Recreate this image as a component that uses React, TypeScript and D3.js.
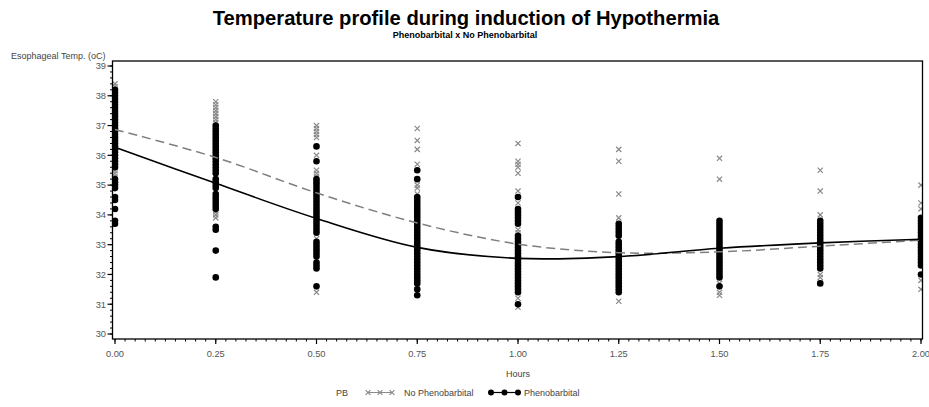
import React from 'react';
import * as d3 from 'd3';

const hours = [0, 0.25, 0.5, 0.75, 1.0, 1.25, 1.5, 1.75, 2.0];
const xTickLabels = ['0.00', '0.25', '0.50', '0.75', '1.00', '1.25', '1.50', '1.75', '2.00'];
const yTickValues = [30, 31, 32, 33, 34, 35, 36, 37, 38, 39];

// smoothed group means
const pbFit = [36.27, 35.06, 33.88, 32.91, 32.54, 32.6, 32.88, 33.06, 33.18];
const noPbFit = [36.87, 35.93, 34.74, 33.73, 33.02, 32.73, 32.76, 32.95, 33.15];

// individual observations, one list per time point
const noPbPoints: number[][] = [
  [38.4, 38.3, 38.2, 38.0, 37.6, 37.2, 36.9, 36.5, 36.0, 35.6, 35.5, 35.4, 35.3, 35.0],
  [37.8, 37.7, 37.6, 37.5, 37.4, 37.3, 37.2, 37.1, 36.5, 36.0, 35.5, 35.3, 35.0, 34.5, 34.1, 34.0, 33.9],
  [37.0, 36.9, 36.8, 36.7, 36.6, 36.0, 35.5, 35.4, 35.3, 34.0, 33.2, 31.4],
  [36.9, 36.5, 36.2, 35.7, 35.0, 34.9, 34.7, 33.0, 31.6, 31.5],
  [36.4, 35.8, 35.7, 35.6, 35.4, 34.8, 34.4, 33.5, 33.4, 31.2, 30.9],
  [36.2, 35.8, 34.7, 33.9, 33.6, 33.2, 31.1],
  [35.9, 35.2, 31.7, 31.4, 31.3],
  [35.5, 34.8, 34.0, 32.0, 31.9, 31.7],
  [35.0, 34.4, 34.2, 33.0, 31.8, 31.5],
];

const pbPoints: number[][] = [
  [38.2, 38.1, 38.0, 37.9, 37.8, 37.7, 37.6, 37.5, 37.4, 37.3, 37.2, 37.1, 37.0, 36.9, 36.8, 36.7, 36.6, 36.5, 36.4, 36.3, 36.2, 36.1, 36.0, 35.9, 35.8, 35.7, 35.6, 35.2, 35.1, 35.0, 34.9, 34.6, 34.5, 34.2, 33.8, 33.7],
  [37.0, 36.9, 36.8, 36.7, 36.6, 36.5, 36.4, 36.3, 36.2, 36.1, 36.0, 35.9, 35.8, 35.7, 35.6, 35.5, 35.4, 35.2, 35.1, 35.0, 34.9, 34.7, 34.6, 34.5, 34.4, 34.3, 34.2, 33.6, 33.5, 32.8, 31.9],
  [36.3, 35.8, 35.2, 35.1, 35.0, 34.9, 34.8, 34.7, 34.6, 34.5, 34.4, 34.3, 34.2, 34.1, 34.0, 33.9, 33.8, 33.7, 33.6, 33.5, 33.4, 33.1, 33.0, 32.9, 32.8, 32.7, 32.6, 32.4, 32.3, 32.2, 31.6],
  [35.5, 35.2, 34.6, 34.5, 34.4, 34.3, 34.2, 34.1, 34.0, 33.9, 33.8, 33.7, 33.6, 33.5, 33.4, 33.3, 33.2, 33.1, 33.0, 32.9, 32.8, 32.7, 32.6, 32.5, 32.4, 32.3, 32.2, 32.1, 32.0, 31.9, 31.8, 31.7, 31.5, 31.3],
  [34.6, 34.2, 34.1, 34.0, 33.9, 33.8, 33.7, 33.3, 33.2, 33.1, 33.0, 32.9, 32.8, 32.7, 32.6, 32.5, 32.4, 32.3, 32.2, 32.1, 32.0, 31.9, 31.8, 31.7, 31.6, 31.5, 31.4, 31.0],
  [33.7, 33.6, 33.5, 33.4, 33.3, 33.1, 33.0, 32.9, 32.8, 32.7, 32.6, 32.5, 32.4, 32.3, 32.2, 32.1, 32.0, 31.9, 31.8, 31.7, 31.6, 31.5, 31.4],
  [33.8, 33.7, 33.6, 33.5, 33.4, 33.3, 33.2, 33.1, 33.0, 32.9, 32.8, 32.7, 32.6, 32.5, 32.4, 32.3, 32.2, 32.1, 32.0, 31.9, 31.6],
  [33.8, 33.7, 33.6, 33.5, 33.4, 33.3, 33.2, 33.1, 33.0, 32.9, 32.8, 32.7, 32.6, 32.5, 32.4, 32.3, 32.2, 31.7],
  [33.9, 33.8, 33.7, 33.6, 33.5, 33.4, 33.3, 33.2, 33.1, 33.0, 32.9, 32.8, 32.7, 32.6, 32.5, 32.4, 32.3, 32.0],
];

const FONT = '"Liberation Sans", Arial, Helvetica, sans-serif';
const W = 929;
const H = 407;
const frame = { left: 112.5, top: 61, right: 922.5, bottom: 339 };

export default function App() {
  const x = d3.scaleLinear().domain([0, 2]).range([115, 921]);
  const y = d3.scaleLinear().domain([30, 39]).range([334, 66]);

  const line = d3
    .line<number>()
    .x((_, i) => x(hours[i]))
    .y((d) => y(d))
    .curve(d3.curveCatmullRom.alpha(0.5));

  const xMinor = d3.range(0, 2.0001, 0.025);
  const yMinor = d3.range(30, 39.0001, 0.2);

  const cross = (cx: number, cy: number, s: number, key: string) => (
    <path
      key={key}
      d={`M${cx - s},${cy - s}L${cx + s},${cy + s}M${cx - s},${cy + s}L${cx + s},${cy - s}`}
      stroke="#8a8a8a"
      strokeWidth={1.2}
      fill="none"
    />
  );

  return (
    <svg
      width={W}
      height={H}
      style={{ position: 'absolute', left: 0, top: 0, background: '#fff' }}
      fontFamily={FONT}
    >
      <rect x={0} y={0} width={W} height={H} fill="#fff" />
      <defs>
        <clipPath id="plotClip">
          <rect
            x={frame.left}
            y={frame.top}
            width={frame.right - frame.left}
            height={frame.bottom - frame.top}
          />
        </clipPath>
      </defs>

      {/* Titles */}
      <text x={466} y={25} textAnchor="middle" fontSize={20.2} fontWeight="bold" fill="#000">
        Temperature profile during induction of Hypothermia
      </text>
      <text x={465} y={37.5} textAnchor="middle" fontSize={9} fontWeight="bold" fill="#000">
        Phenobarbital x No Phenobarbital
      </text>
      <text x={11} y={58.5} fontSize={9} fill="#444">
        Esophageal Temp. (oC)
      </text>

      {/* Data */}
      <g clipPath="url(#plotClip)">
        {noPbPoints.map((col, i) =>
          col.map((v, j) => cross(x(hours[i]), y(v), 2.6, `n${i}-${j}`))
        )}
        {pbPoints.map((col, i) =>
          col.map((v, j) => (
            <circle key={`p${i}-${j}`} cx={x(hours[i])} cy={y(v)} r={3.3} fill="#000" />
          ))
        )}
        <path
          d={line(noPbFit) || ''}
          fill="none"
          stroke="#7f7f7f"
          strokeWidth={1.5}
          strokeDasharray="9,5"
        />
        <path d={line(pbFit) || ''} fill="none" stroke="#000" strokeWidth={1.6} />
      </g>

      {/* Frame */}
      <rect
        x={frame.left}
        y={frame.top}
        width={frame.right - frame.left}
        height={frame.bottom - frame.top}
        fill="none"
        stroke="#000"
        strokeWidth={1.3}
      />

      {/* Y axis ticks */}
      {yMinor.map((v, i) => (
        <line
          key={`ym${i}`}
          x1={frame.left - 2.5}
          x2={frame.left}
          y1={y(v)}
          y2={y(v)}
          stroke="#000"
          strokeWidth={1}
        />
      ))}
      {yTickValues.map((v) => (
        <g key={`yt${v}`}>
          <line x1={frame.left - 5} x2={frame.left} y1={y(v)} y2={y(v)} stroke="#000" strokeWidth={1.2} />
          <text x={106} y={y(v) + 3.3} textAnchor="end" fontSize={9.3} fill="#555">
            {v}
          </text>
        </g>
      ))}

      {/* X axis ticks */}
      {xMinor.map((v, i) => (
        <line
          key={`xm${i}`}
          x1={x(v)}
          x2={x(v)}
          y1={frame.bottom}
          y2={frame.bottom + 2.5}
          stroke="#000"
          strokeWidth={1}
        />
      ))}
      {hours.map((h, i) => (
        <g key={`xt${i}`}>
          <line x1={x(h)} x2={x(h)} y1={frame.bottom} y2={frame.bottom + 5} stroke="#000" strokeWidth={1.2} />
          <text x={x(h)} y={356.5} textAnchor="middle" fontSize={9.3} fill="#555">
            {xTickLabels[i]}
          </text>
        </g>
      ))}
      <text x={518} y={377} textAnchor="middle" fontSize={9} fill="#444">
        Hours
      </text>

      {/* Legend */}
      <text x={336} y={396} fontSize={9} fill="#444">
        PB
      </text>
      <line x1={368} x2={392} y1={392.5} y2={392.5} stroke="#8a8a8a" strokeWidth={1} />
      {[368, 380, 392].map((cx, i) => cross(cx, 392.5, 2.4, `lg${i}`))}
      <text x={404} y={396} fontSize={9} fill="#444">
        No Phenobarbital
      </text>
      <line x1={491} x2={518} y1={392.5} y2={392.5} stroke="#000" strokeWidth={1.2} />
      {[491, 504.5, 518].map((cx, i) => (
        <circle key={`lc${i}`} cx={cx} cy={392.5} r={3} fill="#000" />
      ))}
      <text x={524} y={396} fontSize={9} fill="#444">
        Phenobarbital
      </text>
    </svg>
  );
}
